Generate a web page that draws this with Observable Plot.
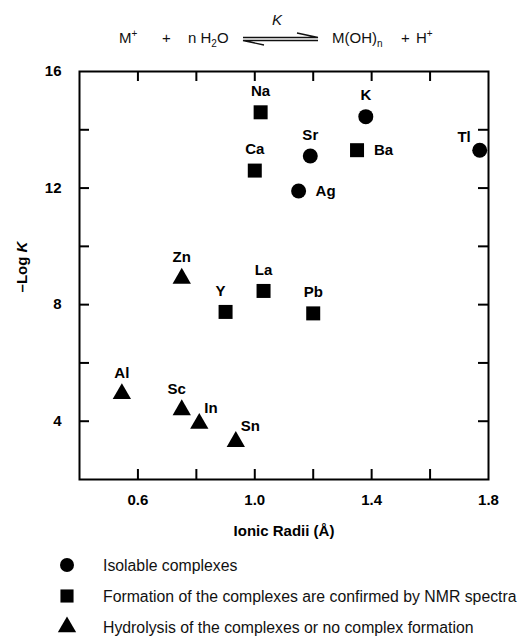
<!DOCTYPE html>
<html><head><meta charset="utf-8">
<script src="https://cdn.jsdelivr.net/npm/d3@7"></script>
<script src="https://cdn.jsdelivr.net/npm/@observablehq/plot@0.6"></script>
<style>
body{margin:0;background:#fff;font-family:"Liberation Sans",Arial,Helvetica,sans-serif;}
#wrap{position:relative;width:520px;height:639px;overflow:hidden;background:#fff}
#eq{position:absolute;left:0;top:0}
#chart{position:absolute;left:0;top:56px;color:black}
#chart svg{font-family:"Liberation Sans",Arial,sans-serif;font-size:15px;overflow:visible}
#legend{position:absolute;left:0;top:550px}
</style>
</head><body>
<div id="wrap">
  <svg id="eq" width="520" height="56" font-family="Liberation Sans, Arial, sans-serif" font-size="15" fill="#111">
    <text x="119" y="43">M<tspan dy="-6" font-size="10">+</tspan></text>
    <text x="162" y="43">+</text>
    <text x="188" y="43">n H<tspan dy="4" font-size="10">2</tspan><tspan dy="-4">O</tspan></text>
    <text x="277" y="25" text-anchor="middle" font-style="italic">K</text>
    <g stroke="#111" stroke-width="1.3" fill="none">
      <path d="M243,37.5H318L297,33"/>
      <path d="M318,40.5H243L264,45"/>
    </g>
    <text x="332" y="43">M(OH)<tspan dy="4" font-size="10">n</tspan></text>
    <text x="401" y="43">+</text>
    <text x="416" y="43">H<tspan dy="-6" font-size="10">+</tspan></text>
  </svg>
  <div id="chart"></div>
  <svg id="legend" width="520" height="89"></svg>
</div>
<script>
// ---- data ----
const elements = ["Na","Ca","K","Sr","Ba","Ag","Tl","Zn","Y","La","Pb","Al","Sc","In","Sn"];
const radii    = [1.02, 1.00, 1.38, 1.19, 1.35, 1.15, 1.77, 0.75, 0.90, 1.03, 1.20, 0.545, 0.75, 0.81, 0.935];
const logK     = [14.6, 12.6, 14.45, 13.1, 13.3, 11.9, 13.3, 8.9, 7.75, 8.47, 7.7, 4.94, 4.39, 3.92, 3.3];
const outcome  = ["NMR","NMR","isolable","isolable","NMR","isolable","isolable","hydrolysis","NMR","NMR","NMR","hydrolysis","hydrolysis","hydrolysis","hydrolysis"];
const outcomeKeys   = ["isolable","NMR","hydrolysis"];
const legendLabels  = ["Isolable complexes","Formation of the complexes are confirmed by NMR spectra","Hydrolysis of the complexes or no complex formation"];
const xTicks      = [0.6, 0.8, 1.0, 1.2, 1.4, 1.6];
const xTickLabels = [0.6, 1.0, 1.4, 1.8];
const yTicks      = [4, 6, 8, 10, 12, 14];
const yTickLabels = [4, 8, 12, 16];
const xTitle = "Ionic Radii (Å)";

// label placement (style only)
const labelPlace = {Ba:"right", Ag:"right", Tl:"upleft", In:"upright", Sn:"upright", Sc:"topl", Y:"topl"};

const rows = elements.map((e,i)=>({el:e, x:radii[i], y:logK[i], g:outcome[i], p:labelPlace[e] || "top"}));

const symbolOf = {isolable:"circle", NMR:"square", hydrolysis:"triangle"};
const rOf = {isolable:7.5, NMR:7.9, hydrolysis:6.8};

const txt = {fill:"black", fontWeight:"bold", fontSize:15, text:"el", x:"x", y:"y"};

const W = 520, H = 494, mT = 15, mB = 71, mL = 79, mR = 32;
const TS = 10;
const fw = W - mL - mR, fh = H - mT - mB;

const chart = Plot.plot({
  width: W, height: H,
  marginTop: mT, marginBottom: mB, marginLeft: mL, marginRight: mR,
  x: {domain:[0.4, 1.8]},
  y: {domain:[2, 16]},
  marks: [
    Plot.frame({stroke:"black", fill:"none", strokeWidth:2}),
    Plot.axisX({ticks:xTickLabels, tickSize:0, tickPadding:15, tickFormat:d3.format(".1f"), label:null, fontWeight:"bold", fontSize:15, fill:"black"}),
    Plot.axisY({ticks:yTickLabels, tickSize:0, tickPadding:18, label:null, fontWeight:"bold", fontSize:15, fill:"black"}),
    // inward tick marks on all four sides
    Plot.ruleX(xTicks, {x:d=>d, insetTop: fh - TS, stroke:"black", strokeWidth:2}),
    Plot.ruleX(xTicks, {x:d=>d, insetBottom: fh - TS, stroke:"black", strokeWidth:2}),
    Plot.ruleY(yTicks, {y:d=>d, insetRight: fw - TS, stroke:"black", strokeWidth:2}),
    Plot.ruleY(yTicks, {y:d=>d, insetLeft: fw - TS, stroke:"black", strokeWidth:2}),
    ...outcomeKeys.map(k => Plot.dot(rows.filter(d=>d.g===k), {x:"x", y:"y", symbol:symbolOf[k], r:rOf[k], fill:"black", stroke:"none"})),
    Plot.text(rows.filter(d=>d.p==="top"), {...txt, dy:-21}),
    Plot.text(rows.filter(d=>d.p==="topl"), {...txt, dy:-21, dx:-5}),
    Plot.text(rows.filter(d=>d.p==="right"), {...txt, dx:17, textAnchor:"start"}),
    Plot.text(rows.filter(d=>d.p==="upright"), {...txt, dx:5, dy:-15, textAnchor:"start"}),
    Plot.text(rows.filter(d=>d.p==="upleft"), {...txt, dx:-9, dy:-13, textAnchor:"end"}),
    Plot.text([xTitle], {frameAnchor:"bottom", dy:56, text:d=>d, fontWeight:"bold", fontSize:15, fill:"black"})
  ]
});
document.getElementById("chart").appendChild(chart);

// y-axis title with italic K
const yt = d3.select(chart).append("text")
  .attr("transform", "translate(21,211) rotate(-90)")
  .attr("text-anchor","middle").attr("dominant-baseline","central")
  .attr("font-weight","bold").attr("font-size",15).attr("fill","black");
yt.append("tspan").text("\u2013Log ");
yt.append("tspan").attr("font-style","italic").text("K");

// legend
const leg = d3.select("#legend");
const legY = [15, 46, 77];
const legSym = {isolable:d3.symbolCircle, NMR:d3.symbolSquare, hydrolysis:d3.symbolTriangle};
const legR = {isolable:7, NMR:7.4, hydrolysis:6.8};
outcomeKeys.forEach((k,i)=>{
  leg.append("path")
    .attr("transform",`translate(67,${legY[i]})`)
    .attr("d", d3.symbol(legSym[k], Math.PI*legR[k]*legR[k])())
    .attr("fill","black");
  leg.append("text").attr("x",103).attr("y",legY[i])
    .attr("dominant-baseline","central")
    .attr("font-family","Liberation Sans, Arial, sans-serif")
    .attr("font-size",15.8).attr("fill","#111")
    .text(legendLabels[i]);
});
</script>
</body></html>
